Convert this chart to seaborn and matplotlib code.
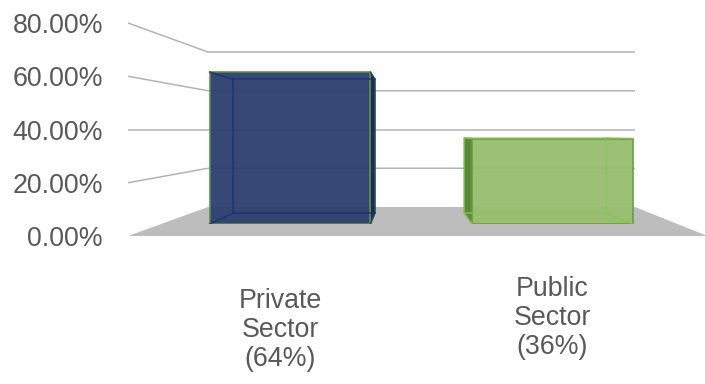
import matplotlib
matplotlib.use("Agg")
import matplotlib.pyplot as plt
from matplotlib.patches import Polygon
from matplotlib.ticker import FuncFormatter
import seaborn as sns

# ---- data -------------------------------------------------------------
sectors = ["Private\nSector", "Public\nSector"]
shares = [64, 36]
y_ticks = [0, 20, 40, 60, 80]

# ---- style ------------------------------------------------------------
sns.set_theme(style="white")
plt.rcParams["font.family"] = ["Liberation Sans", "DejaVu Sans"]
TEXT = "#595959"
GRID = "#b3b3b3"
FLOOR = "#bdbdbd"
FACE = ["#22397a", "#97cb60"]
SIDE = ["#1b2b5e", "#5a8a38"]
INNER = ["#18306a", "#8ac456"]
EDGE = ["#5a8f3c", "#679a42"]

W, H = 705, 384
fig = plt.figure(figsize=(W / 100, H / 100), dpi=100)

# ---- back wall, floor and receding grid lines (pixel space) -----------
deco = fig.add_axes([0, 0, 1, 1], zorder=0)
deco.set_xlim(0, W)
deco.set_ylim(H, 0)
deco.axis("off")

front_x, back_x0, back_x1, floor_right = 128, 208, 635, 705
front_y0, front_k = 236, 2.6625      # label plane: y = 236 - v*k
back_y0, back_k = 207, 1.9375        # back wall:   y = 207 - v*k

deco.add_patch(Polygon([(front_x, front_y0), (back_x0, back_y0),
                        (back_x1, back_y0), (floor_right, front_y0 - 1),
                        (floor_right, front_y0)],
                       closed=True, facecolor=FLOOR, edgecolor="none"))
for v in y_ticks[1:]:
    yf = front_y0 - v * front_k
    yb = back_y0 - v * back_k
    deco.plot([front_x, back_x0, back_x1], [yf, yb, yb],
              color=GRID, lw=1.1, solid_capstyle="butt")

# ---- value axis labels ------------------------------------------------
lab = fig.add_axes([front_x / W, (H - front_y0) / H,
                    (back_x1 - front_x) / W, (front_y0 - 23) / H], zorder=1)
lab.patch.set_alpha(0)
lab.set_ylim(0, 80)
lab.set_yticks(y_ticks)
lab.yaxis.set_major_formatter(FuncFormatter(lambda v, _: f"{v:.2f}%"))
lab.set_xticks([])
lab.tick_params(axis="y", length=0, pad=18, labelsize=19.3, labelcolor=TEXT)
for s in lab.spines.values():
    s.set_visible(False)

# ---- bars -------------------------------------------------------------
unit = 262.5          # px per category step
x0_px = 290           # centre of first bar
ax = fig.add_axes([(x0_px - 0.5 * unit) / W, (H - 224) / H,
                   2 * unit / W, 80 * 2.375 / H], zorder=2)
ax.patch.set_alpha(0)
bw = 0.613
sns.barplot(x=sectors, y=shares, hue=sectors, palette=FACE, legend=False,
            width=bw, alpha=0.95, ax=ax)
ax.set_xlim(-0.5, 1.5)
ax.set_ylim(0, 80)
ax.axis("off")

# perspective depth: back face = vp + s * (front - vp)
vp = (0.45, 38.6)
s = 0.88


def back(px, py):
    return vp[0] + s * (px - vp[0]), vp[1] + s * (py - vp[1])


for i, bar in enumerate(ax.patches):
    bar.set_edgecolor(EDGE[i])
    bar.set_linewidth(1.2)
    bar.set_zorder(3)
    xl, xr = bar.get_x(), bar.get_x() + bar.get_width()
    yb, yt = 0, bar.get_height()
    corners = [(xl, yt), (xr, yt), (xr, yb), (xl, yb)]
    bc = [back(*c) for c in corners]
    # hidden edges of the box, seen through the translucent face
    ax.add_patch(Polygon(bc, closed=True, facecolor="none",
                         edgecolor=INNER[i], lw=1.1, alpha=0.8, zorder=4))
    for c, b in zip(corners, bc):
        ax.plot([c[0], b[0]], [c[1], b[1]], color=INNER[i], lw=1.1,
                alpha=0.8, zorder=4)
    # visible side face
    if bc[1][0] > xr:
        side = [corners[1], bc[1], bc[2], corners[2]]
    else:
        side = [corners[0], bc[0], bc[3], corners[3]]
    ax.add_patch(Polygon(side, closed=True, facecolor=SIDE[i],
                         edgecolor=EDGE[i], lw=0.8, zorder=2.5))

# ---- category labels --------------------------------------------------
label_offsets = [(-10, -106), (0, -94)]
for i, (name, val) in enumerate(zip(sectors, shares)):
    ax.annotate(f"{name}\n({val}%)", xy=(i, 0), xytext=label_offsets[i],
                textcoords="offset pixels", ha="center", va="center",
                multialignment="center", fontsize=19.3, color=TEXT,
                linespacing=1.13, annotation_clip=False)

fig.savefig("out.png", dpi=100)
